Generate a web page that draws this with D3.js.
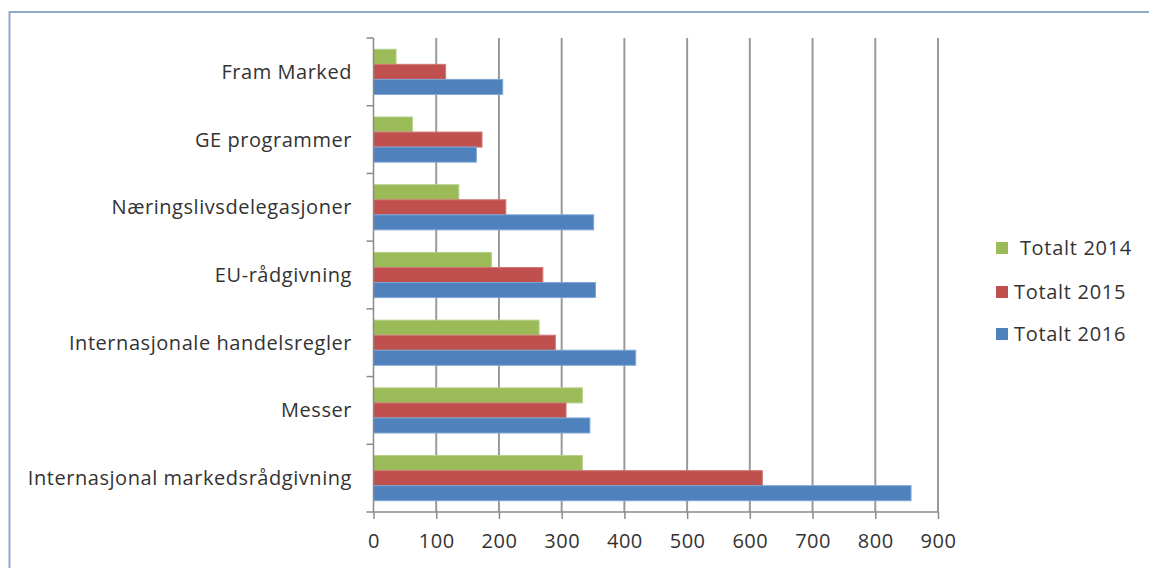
<!DOCTYPE html>
<html><head><meta charset="utf-8">
<script src="https://cdn.jsdelivr.net/npm/d3@7"></script>
<style>body{margin:0;background:#fff;} svg{display:block;}</style>
</head><body>
<script>
const categories = ["Fram Marked","GE programmer","Næringslivsdelegasjoner","EU-rådgivning","Internasjonale handelsregler","Messer","Internasjonal markedsrådgivning"];
const seriesNames = ["Totalt 2014","Totalt 2015","Totalt 2016"];
const legendLabels = [" Totalt 2014","Totalt 2015","Totalt 2016"];
const totalt2014 = [36, 62, 136, 188, 264, 333, 333];
const totalt2015 = [115, 173, 211, 270, 290, 307, 620];
const totalt2016 = [206, 164, 351, 354, 418, 345, 857];
const xTicks = [0,100,200,300,400,500,600,700,800,900];
const colors = ["#9BBB59","#C0504D","#4F81BD"];
const strokes = ["#b5d08a","#d07a77","#7fa6d6"];

(function(){
const W=1149,H=568;
const FONT="Open Sans, sans-serif";
const svg=d3.select("body").append("svg").attr("width",W).attr("height",H);
// frame
svg.append("rect").attr("x",9.5).attr("y",12).attr("width",W+20).attr("height",H+20)
  .attr("fill","none").attr("stroke","#8fa8c6").attr("stroke-width",2);

const pL=373.5,pR=938,pT=38,pB=512;
const x=d3.scaleLinear().domain([0,900]).range([pL,pR]);
const y=d3.scaleBand().domain(categories).range([pT,pB]);
const series=[totalt2014,totalt2015,totalt2016];
const barH=y.bandwidth()/4.5;

// gridlines
svg.append("g").selectAll("line").data(xTicks.slice(1)).join("line")
  .attr("x1",d=>x(d)).attr("x2",d=>x(d)).attr("y1",pT).attr("y2",pB)
  .attr("stroke","#9a9a9a").attr("stroke-width",2);

// bars
series.forEach((vals,si)=>{
  svg.append("g").selectAll("rect").data(vals).join("rect")
    .attr("x",x(0)).attr("y",(d,i)=>y(categories[i])+y.bandwidth()/2-1.5*barH+si*barH)
    .attr("width",d=>x(d)-x(0)).attr("height",barH)
    .attr("fill",colors[si]).attr("stroke",strokes[si]).attr("stroke-width",1);
});

// x axis
const xa=svg.append("g").attr("transform",`translate(0,${pB})`)
  .call(d3.axisBottom(x).tickValues(xTicks).tickSize(7).tickPadding(15));
xa.select(".domain").attr("stroke","#8a8a8a").attr("stroke-width",1.5).attr("d",`M${pL},0H${pR}`);
xa.selectAll(".tick line").attr("stroke","#8a8a8a").attr("stroke-width",1.5);
xa.selectAll("text").attr("font-family",FONT).attr("font-size",20).attr("fill","#333").attr("letter-spacing",0.5);

// y axis
const yTicks=d3.range(categories.length+1).map(i=>pT+i*y.step());
svg.append("line").attr("x1",pL).attr("x2",pL).attr("y1",pT).attr("y2",pB).attr("stroke","#8a8a8a").attr("stroke-width",1.5);
svg.append("g").selectAll("line").data(yTicks).join("line")
  .attr("x1",pL-7).attr("x2",pL).attr("y1",d=>d).attr("y2",d=>d).attr("stroke","#8a8a8a").attr("stroke-width",1.5);
svg.append("g").selectAll("text").data(categories).join("text")
  .attr("x",352).attr("y",d=>y(d)+y.bandwidth()/2).attr("dy","0.35em")
  .attr("text-anchor","end").attr("font-family",FONT).attr("font-size",20).attr("fill","#333")
  .attr("letter-spacing",0.55)
  .text(d=>d);

// legend
const ly=[248,292,334];
const lg=svg.append("g");
seriesNames.forEach((s,i)=>{
  lg.append("rect").attr("x",996).attr("y",ly[i]-6).attr("width",12).attr("height",12).attr("fill",colors[i]);
  lg.append("text").attr("x",1014).attr("y",ly[i]).attr("dy","0.35em").attr("font-family",FONT)
    .attr("font-size",20).attr("fill","#333").attr("letter-spacing",0.7).style("white-space","pre").text(legendLabels[i]);
});
})();
</script>
</body></html>
